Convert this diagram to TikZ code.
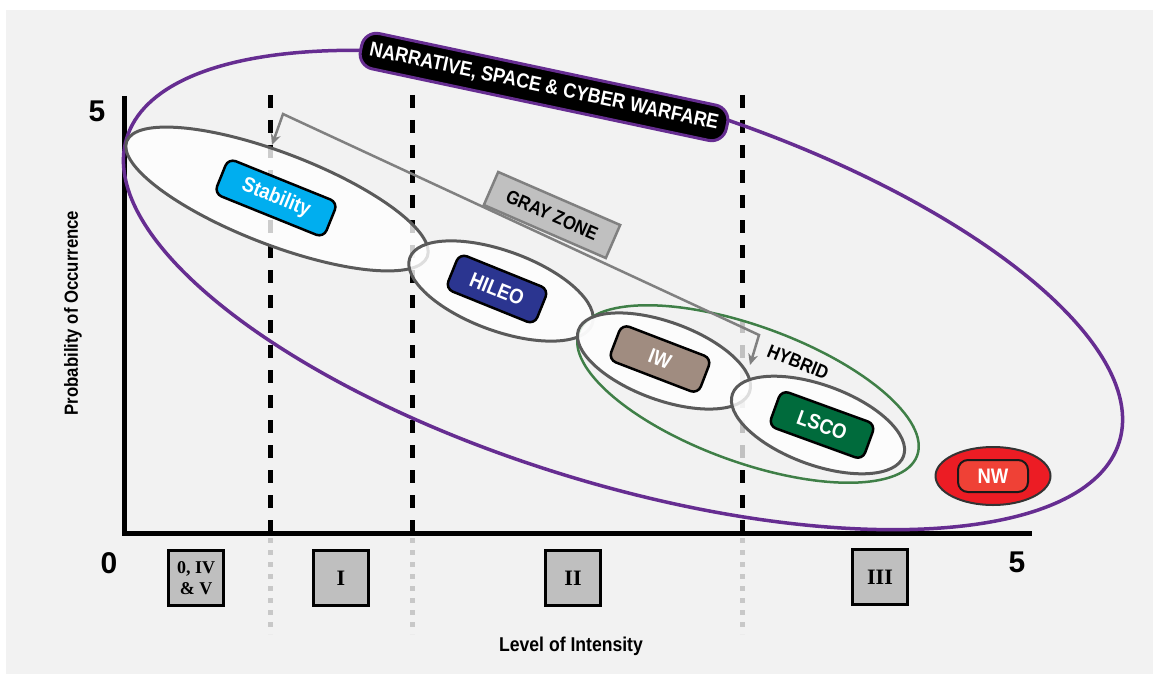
\documentclass[tikz,border=0pt]{standalone}
\usepackage{fontspec}
\usetikzlibrary{shapes.geometric,arrows.meta}
\newfontfamily\labfont[FakeStretch=0.88]{Liberation Sans}
\newfontfamily\romfont{Liberation Serif}
\newfontfamily\axisfont{Liberation Sans}
\definecolor{bg}{HTML}{F2F2F2}
\definecolor{purp}{HTML}{662D91}
\definecolor{zoneline}{HTML}{5A5A5A}
\definecolor{hybridline}{HTML}{3F7F47}
\definecolor{connline}{HTML}{808080}
\definecolor{gzfill}{HTML}{C0C0C0}
\definecolor{phasefill}{HTML}{BFBFBF}
\definecolor{dotgray}{HTML}{C8C8C8}
\definecolor{cstab}{HTML}{00AEEF}
\definecolor{chileo}{HTML}{2B3590}
\definecolor{ciw}{HTML}{A08C80}
\definecolor{clsco}{HTML}{006B3C}
\definecolor{cnwout}{HTML}{EC1C24}
\definecolor{cnwin}{HTML}{EF4136}
\begin{document}
\begin{tikzpicture}[x=1pt,y=-1pt,
  lab/.style={font=\labfont\bfseries\fontsize{19}{22}\selectfont},
  biglab/.style={font=\labfont\bfseries\fontsize{21}{24}\selectfont},
  major/.style={draw=black,line width=5pt,dash pattern=on 13pt off 12pt},
  minor/.style={draw=dotgray,line width=5pt,dash pattern=on 5pt off 7pt},
  zone/.style={ellipse,draw=zoneline,line width=3pt,fill=white,fill opacity=0.8,
    draw opacity=1,inner sep=0pt},
  mission/.style={rectangle,rounded corners=8pt,draw=black,line width=2.5pt,
    text=white,biglab,inner sep=0pt,minimum height=38pt},
  phase/.style={rectangle,draw=black,line width=2.5pt,fill=phasefill,
    minimum width=55pt,minimum height=55pt,inner sep=0pt,
    font=\romfont\bfseries\fontsize{22}{22}\selectfont},
  axisnum/.style={font=\axisfont\bfseries\fontsize{30}{30}\selectfont,inner sep=0pt},
  conn/.style={draw=connline,line width=2.5pt,line join=miter}
]
\useasboundingbox (0,0) rectangle (1153,674);
% page and panel
\fill[white] (0,0) rectangle (1153,674);
\fill[bg] (6,10) rectangle (1153,674);

% intensity boundaries: dashed above the axis, dotted below it
\foreach \gx/\gn in {270/a,412/b,742/c}{
  \coordinate (top\gn) at (\gx,95);
  \coordinate (axis\gn) at (\gx,533);
  \coordinate (sub\gn) at (\gx,538);
  \coordinate (low\gn) at (\gx,634);
  \draw[major] (top\gn) -- (axis\gn);
  \draw[minor] (sub\gn) -- (low\gn);
}

% axes
\coordinate (ytop) at (124,96);
\coordinate (corner) at (124,533);
\coordinate (xend) at (1032,533);
\draw[line width=5pt] (ytop) -- (corner) -- (xend);

% overall envelope
\node[ellipse,draw=purp,line width=3.5pt,inner sep=0pt,minimum width=1038pt,
  minimum height=388pt,rotate=-17] (envelope) at (623,290) {};

% operating zones
\node[zone,minimum width=322pt,minimum height=92pt,rotate=-21] (zstab) at (277,199) {};
\node[zone,minimum width=194pt,minimum height=80pt,rotate=-20] (zhileo) at (501,291) {};
\node[ellipse,draw=hybridline,line width=2.5pt,fill=bg,fill opacity=0.8,draw opacity=1,
  inner sep=0pt,minimum width=360pt,minimum height=136pt,rotate=-20] (zhybrid) at (748,394) {};
\node[zone,minimum width=182pt,minimum height=78pt,rotate=-20] (ziw) at (664,361) {};
\node[zone,minimum width=182pt,minimum height=80pt,rotate=-20] (zlsco) at (818,425) {};

% gray zone span
\coordinate (gzA) at (272,145);
\coordinate (gzB) at (283,114);
\coordinate (gzC) at (759,335);
\coordinate (gzD) at (750,365);
\draw[conn,{Stealth[length=11pt,width=10pt]}-{Stealth[length=11pt,width=10pt]}]
  (gzA) -- (gzB) -- (gzC) -- (gzD);
\node[rectangle,draw=connline,line width=2.5pt,fill=gzfill,minimum width=133pt,
  minimum height=36pt,inner sep=0pt,rotate=-23.5,lab] (grayzone) at (552,215) {GRAY ZONE};
\node[lab,rotate=-22,inner sep=0pt] (hybrid) at (798,362) {HYBRID};

% mission types
\node[mission,fill=cstab,minimum width=118pt,rotate=-22] (stab) at (276,198) {Stability};
\node[mission,fill=chileo,minimum width=96pt,rotate=-22] (hileo) at (497,289) {HILEO};
\node[mission,fill=ciw,minimum width=96pt,rotate=-21] (iw) at (660,359) {IW};
\node[mission,fill=clsco,minimum width=100pt,rotate=-20] (lsco) at (822,425) {LSCO};
\node[ellipse,draw=black!80,line width=2pt,fill=cnwout,inner sep=0pt,
  minimum width=115pt,minimum height=58pt] (nwout) at (993,476) {};
\node[rectangle,rounded corners=10pt,draw=black!90,line width=2pt,fill=cnwin,
  minimum width=70pt,minimum height=32pt,inner sep=0pt,text=white,biglab] (nw) at (993,476) {NW};

% envelope title
\node[rectangle,rounded corners=15pt,fill=black,draw=purp,line width=3pt,
  minimum width=374pt,minimum height=36pt,inner sep=0pt,rotate=-12,text=white,
  font=\labfont\bfseries\fontsize{20.5}{24}\selectfont]
  (title) at (544,87) {NARRATIVE, SPACE \& CYBER WARFARE};

% axis annotations
\node[axisnum] (ymax) at (97,111) {5};
\node[axisnum] (orig) at (109,563) {0};
\node[axisnum] (xmax) at (1017,562) {5};
\node[rotate=90,inner sep=0pt,font=\labfont\bfseries\fontsize{19}{22}\selectfont] (ylab) at (73,313) {Probability of Occurrence};
\node[inner sep=0pt,font=\labfont\bfseries\fontsize{20}{22}\selectfont] (xlab) at (571,646) {Level of Intensity};

% phase markers
\node[phase,align=center,font=\romfont\bfseries\fontsize{18}{21}\selectfont] (ph0) at (196,578) {0, IV\\\& V};
\node[phase] (ph1) at (341,578) {I};
\node[phase] (ph2) at (573,578) {II};
\node[phase] (ph3) at (880,577) {III};
\end{tikzpicture}
\end{document}
